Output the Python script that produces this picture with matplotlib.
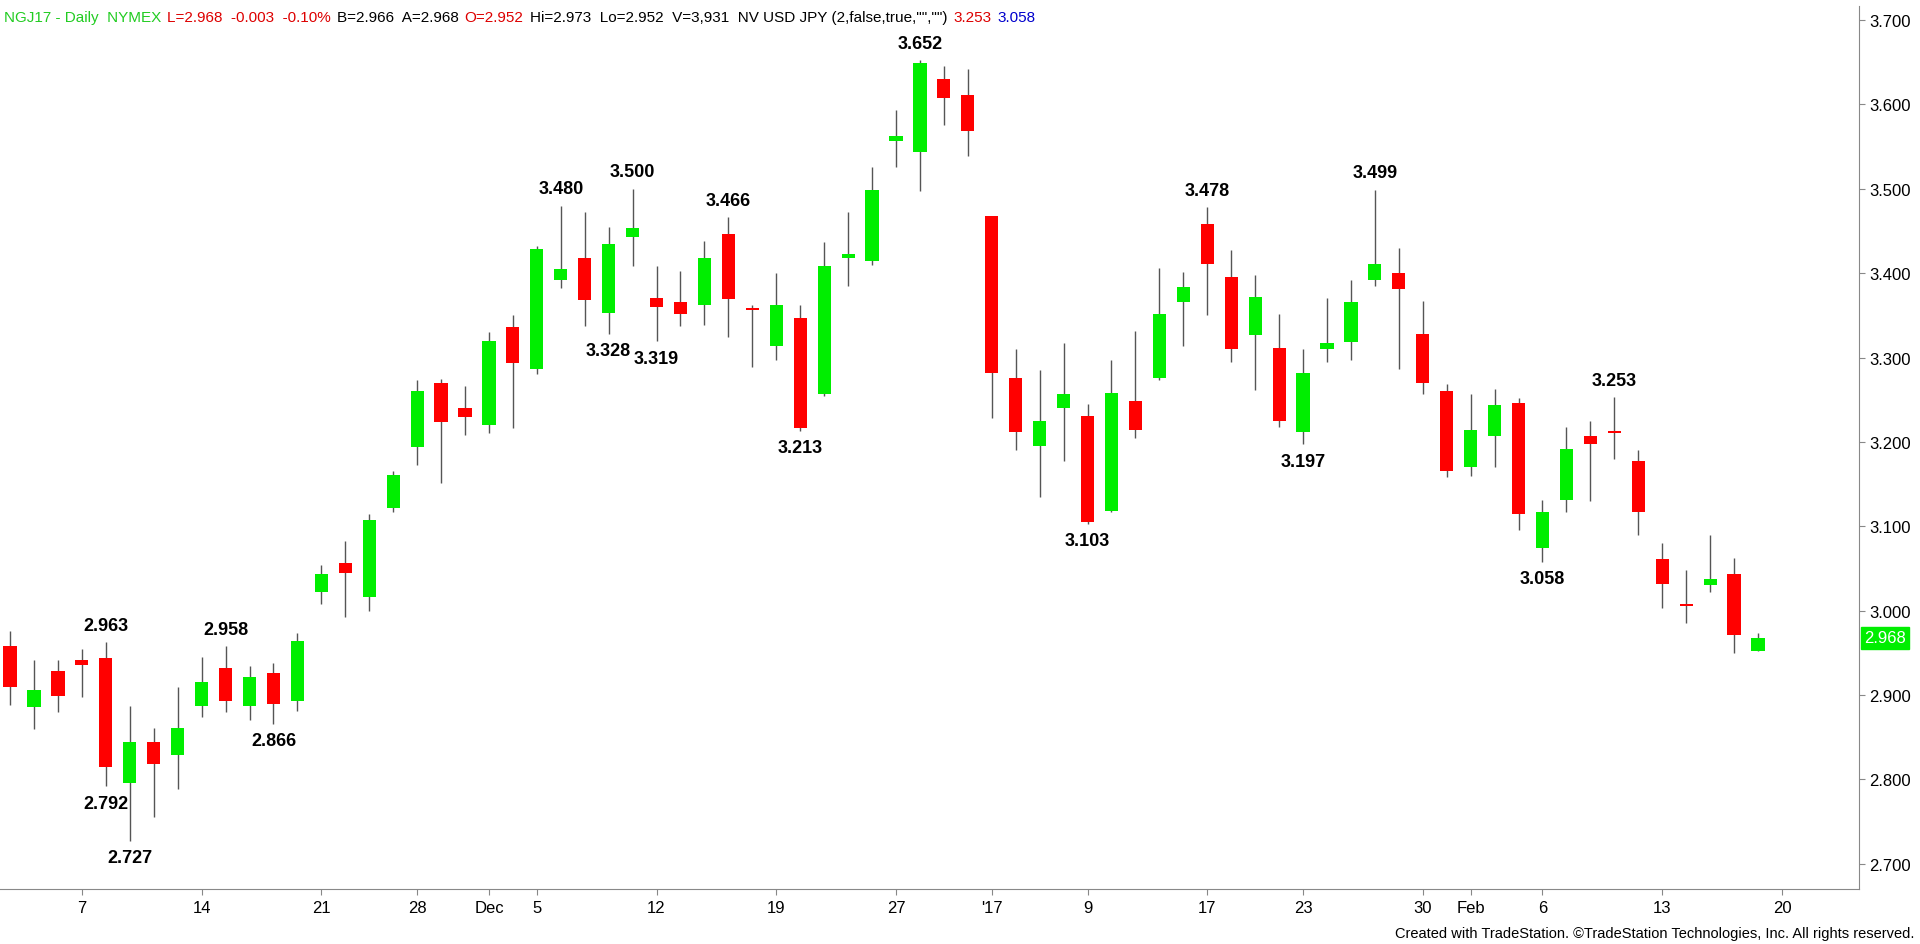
import matplotlib
matplotlib.use("Agg")
import matplotlib.pyplot as plt
import numpy as np

opens  = [2.958,2.886,2.929,2.942,2.944,2.796,2.844,2.829,2.887,2.932,2.887,2.926,2.893,3.022,3.057,3.016,3.122,3.194,3.270,3.240,
          3.220,3.336,3.286,3.392,3.418,3.353,3.443,3.370,3.366,3.362,3.446,3.359,3.314,3.347,3.257,3.418,3.414,3.556,3.543,3.630,
          3.611,3.468,3.276,3.195,3.240,3.231,3.118,3.249,3.276,3.366,3.458,3.395,3.327,3.311,3.212,3.310,3.318,3.392,3.400,3.328,
          3.260,3.170,3.207,3.246,3.074,3.131,3.207,3.213,3.177,3.061,3.006,3.030,3.044,2.952]
highs  = [2.976,2.942,2.941,2.955,2.963,2.887,2.861,2.909,2.945,2.958,2.935,2.938,2.973,3.054,3.082,3.114,3.165,3.273,3.275,3.266,
          3.330,3.350,3.432,3.480,3.472,3.455,3.500,3.408,3.402,3.438,3.466,3.362,3.400,3.362,3.437,3.473,3.526,3.593,3.652,3.646,
          3.642,3.468,3.310,3.285,3.317,3.245,3.297,3.331,3.406,3.401,3.478,3.427,3.398,3.352,3.310,3.370,3.392,3.499,3.430,3.367,
          3.269,3.257,3.263,3.252,3.131,3.218,3.225,3.253,3.190,3.080,3.048,3.090,3.063,2.973]
lows   = [2.888,2.860,2.880,2.898,2.792,2.727,2.755,2.789,2.874,2.880,2.871,2.866,2.881,3.008,2.992,3.000,3.117,3.173,3.151,3.208,
          3.210,3.217,3.280,3.382,3.337,3.328,3.408,3.319,3.337,3.338,3.324,3.289,3.297,3.213,3.255,3.385,3.410,3.526,3.497,3.575,
          3.539,3.228,3.190,3.135,3.177,3.103,3.117,3.205,3.273,3.314,3.350,3.295,3.262,3.218,3.197,3.295,3.297,3.385,3.286,3.257,
          3.159,3.160,3.170,3.096,3.058,3.117,3.130,3.180,3.090,3.003,2.985,3.022,2.950,2.952]
closes = [2.910,2.906,2.899,2.936,2.815,2.845,2.818,2.861,2.916,2.893,2.922,2.889,2.964,3.044,3.045,3.108,3.161,3.260,3.224,3.230,
          3.320,3.294,3.429,3.405,3.368,3.434,3.453,3.360,3.352,3.418,3.369,3.356,3.362,3.217,3.408,3.423,3.498,3.562,3.649,3.607,
          3.568,3.282,3.212,3.225,3.257,3.105,3.258,3.214,3.352,3.384,3.411,3.310,3.372,3.225,3.282,3.317,3.366,3.411,3.381,3.270,
          3.166,3.214,3.244,3.115,3.117,3.192,3.197,3.210,3.117,3.032,3.005,3.037,2.971,2.968]

tick_idx    = [3, 8, 13, 17, 20, 22, 27, 32, 37, 41, 45, 50, 54, 59, 61, 64, 69, 74]
tick_labels = ["7","14","21","28","Dec","5","12","19","27","'17","9","17","23","30","Feb","6","13","20"]

hi_ann_idx = [4, 9, 23, 26, 30, 38, 50, 57, 67]
lo_ann_idx = [4, 5, 11, 25, 27, 33, 45, 54, 64]

yticks = [2.7,2.8,2.9,3.0,3.1,3.2,3.3,3.4,3.5,3.6,3.7]

GREEN = "#00ee00"; RED = "#ff0000"
FONT = "Liberation Sans"
fig = plt.figure(figsize=(19.2, 9.45), dpi=100)
ax = fig.add_axes([0.0, 0.058, 0.968, 0.935])
x = np.arange(len(opens))
o = np.array(opens); c = np.array(closes)
cols = [GREEN if cc >= oo else RED for oo, cc in zip(o, c)]
ax.vlines(x, lows, highs, color="#555555", lw=1.0, zorder=1)
bottom = np.minimum(o, c)
height = np.maximum(np.abs(c - o), 0.003)
ax.bar(x, height, bottom=bottom, width=0.55, color=cols, zorder=2)

fs = 13
for i in hi_ann_idx:
    ax.annotate(f"{highs[i]:.3f}", (i, highs[i]), xytext=(0, 6), textcoords="offset points",
                ha="center", va="bottom", fontsize=fs, fontweight="bold", family=FONT)
for i in lo_ann_idx:
    ax.annotate(f"{lows[i]:.3f}", (i, lows[i]), xytext=(0, -6), textcoords="offset points",
                ha="center", va="top", fontsize=fs, fontweight="bold", family=FONT)

ax.set_xlim(-0.42, 77.2)
ax.set_ylim(2.670, 3.717)
ax.set_xticks(tick_idx)
ax.set_xticklabels(tick_labels, family=FONT, fontsize=12)
ax.tick_params(axis="x", length=4, color="#888888")
ax.yaxis.tick_right()
ax.set_yticks(yticks)
ax.set_yticklabels([f"{v:.3f}" for v in yticks], family=FONT, fontsize=12)
ax.tick_params(axis="y", length=4, color="#888888")
for s in ["top", "left"]:
    ax.spines[s].set_visible(False)
ax.spines["right"].set_color("#888888")
ax.spines["bottom"].set_color("#888888")

ax.text(1.003, closes[-1], f"{closes[-1]:.3f}", transform=ax.get_yaxis_transform(), va="center", ha="left",
        fontsize=12, family=FONT, color="white",
        bbox=dict(boxstyle="square,pad=0.2", fc=GREEN, ec=GREEN))

hdr = [("NGJ17 - Daily  NYMEX", "#22cc22"), ("L=2.968  -0.003  -0.10%", "#dd0000"),
       ("B=2.966  A=2.968", "black"), ("O=2.952", "#dd0000"),
       ('Hi=2.973  Lo=2.952  V=3,931  NV USD JPY (2,false,true,"","")', "black"),
       ("3.253", "#dd0000"), ("3.058", "#0000cc")]
prev = fig.text(0.002, 0.988, hdr[0][0], color=hdr[0][1], fontsize=11, family=FONT, va="top")
for t, col in hdr[1:]:
    prev = fig.text(0, 0, t, color=col, fontsize=11, family=FONT, va="top")
    prev_holder = prev
hdr_texts = [t for t in fig.texts]
# position sequentially after a draw
fig.canvas.draw()
r = fig.canvas.get_renderer()
xpos = hdr_texts[0].get_window_extent(r).x1
for t in hdr_texts[1:]:
    t.set_position(((xpos + 6) / fig.bbox.width, 0.988))
    fig.canvas.draw()
    xpos = t.get_window_extent(r).x1

fig.text(0.997, 0.004, "Created with TradeStation. ©TradeStation Technologies, Inc. All rights reserved.",
         ha="right", va="bottom", fontsize=10.5, family=FONT)
fig.savefig("out.png", dpi=100)
